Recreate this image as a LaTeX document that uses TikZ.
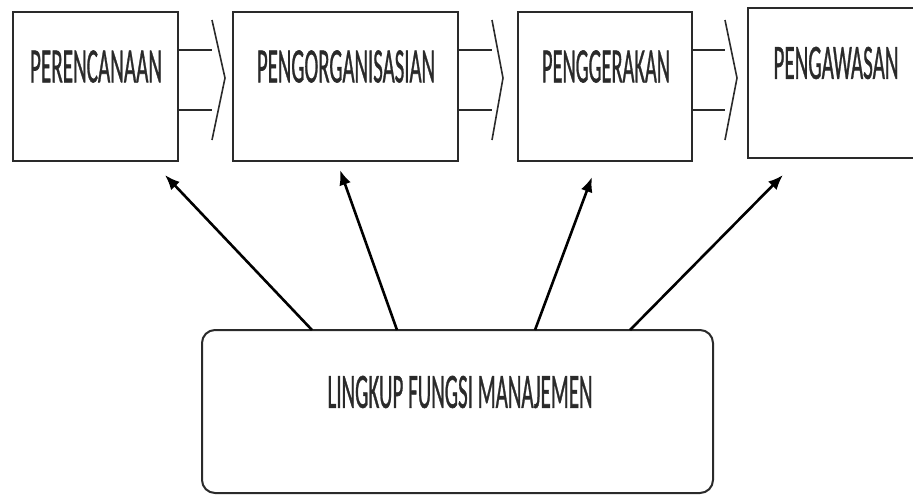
\documentclass[tikz,border=0pt]{standalone}
\usepackage{fontspec}
\setmainfont{Carlito}
\newfontfamily\lblfont[FakeBold=1.2]{Carlito}
\usetikzlibrary{arrows.meta}
\definecolor{ink}{HTML}{2A2A2A}
\tikzset{
  box/.style={draw=ink, line width=2pt, fill=white, inner sep=0pt},
  lbl/.style={inner sep=0pt, text=ink},
  flow/.style={draw=ink, line width=1.6pt, line join=miter},
  link/.style={draw=black, line width=2.6pt, -{Latex[length=15pt,width=12pt]}}
}
\newcommand{\lab}[2]{\resizebox{#1pt}{32pt}{\lblfont #2}}
\begin{document}
\begin{tikzpicture}[x=1pt,y=-1pt]
\useasboundingbox (0,0) rectangle (913,496);
\clip (0,0) rectangle (913,496);
% top boxes
\node[box, minimum width=165pt, minimum height=149pt] (b1) at (95.5,86.5) {};
\node[box, minimum width=225pt, minimum height=149pt] (b2) at (345.5,86.5) {};
\node[box, minimum width=174pt, minimum height=149pt] (b3) at (605,86.5) {};
\node[box, minimum width=200pt, minimum height=150pt] (b4) at (848,83) {};
% labels
\node[lbl] (l1) at (96,66.5) {\lab{132}{PERENCANAAN}};
\node[lbl] (l2) at (346,66.5) {\lab{178}{PENGORGANISASIAN}};
\node[lbl] (l3) at (606,66.5) {\lab{128}{PENGGERAKAN}};
\node[lbl] (l4) at (836,63) {\lab{125}{PENGAWASAN}};
% block arrows between boxes
\foreach \r/\h/\t in {178/212/225, 458/492/503, 692/725/737}{
  \draw[flow] (\r,50) -- (\h,50);
  \draw[flow] (\r,110) -- (\h,110);
  \draw[flow] (\h,20) -- (\t,78) -- (\h,140);
}
% bottom box
\node[box, rounded corners=13pt, minimum width=511pt, minimum height=163pt] (bot) at (457.5,411.5) {};
\node[lbl] (lb) at (460,392) {\lab{265}{LINGKUP FUNGSI MANAJEMEN}};
% connectors
\coordinate (s1) at (312,330); \coordinate (t1) at (165,175);
\coordinate (s2) at (397,330); \coordinate (t2) at (340,170);
\coordinate (s3) at (535,330); \coordinate (t3) at (592,177);
\coordinate (s4) at (630,330); \coordinate (t4) at (783,175);
\draw[link] (s1) -- (t1);
\draw[link] (s2) -- (t2);
\draw[link] (s3) -- (t3);
\draw[link] (s4) -- (t4);
\end{tikzpicture}
\end{document}
